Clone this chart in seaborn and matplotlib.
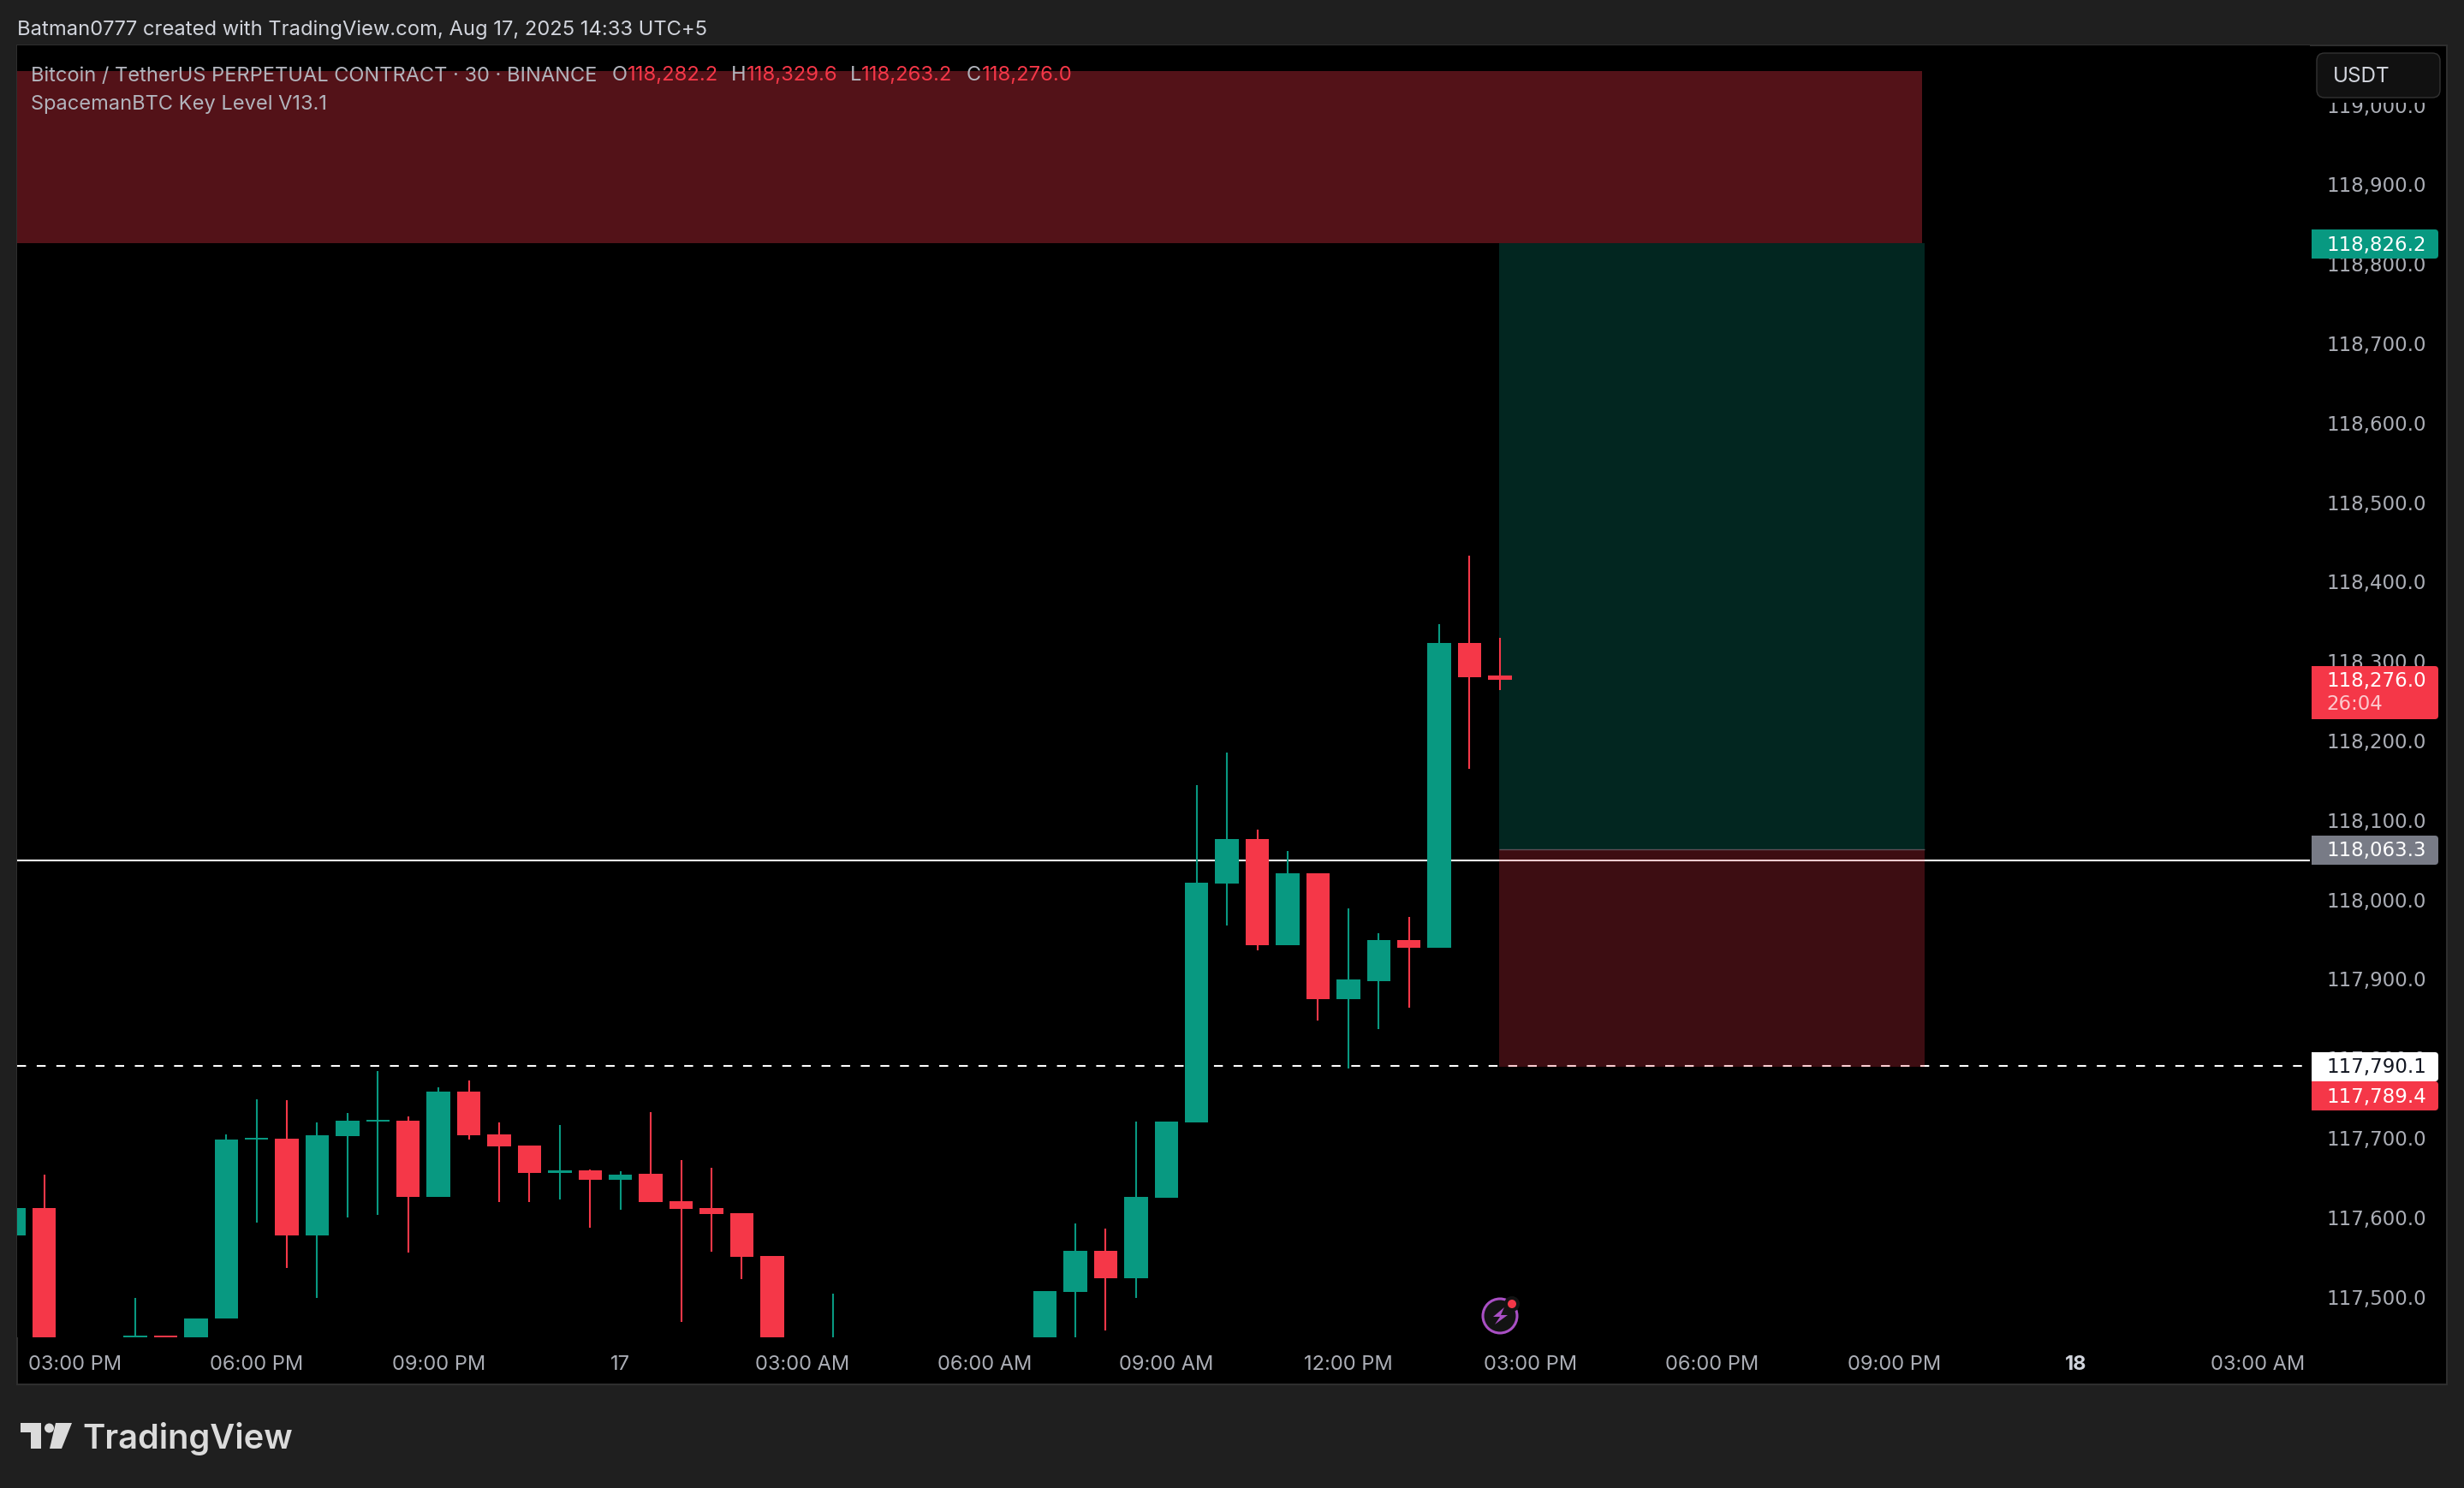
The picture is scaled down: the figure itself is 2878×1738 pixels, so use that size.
import pandas as pd
import seaborn as sns
from matplotlib import pyplot as plt
from matplotlib.patches import Rectangle, Circle, Polygon, FancyBboxPatch
from matplotlib.transforms import Affine2D

# candles, body below the pane bottom is only estimated
idx = [0, 1, 4, 5, 6, 7, 8, 9, 10, 11, 12, 13, 14, 15, 16, 17, 18, 19, 20, 21, 22, 23, 24, 25, 27,
       34, 35, 36, 37, 38, 39, 40, 41, 42, 43, 44, 45, 46, 47, 48, 49]
opens = [117576.8, 117612.0, 117420.0, 117450.6, 117420.0, 117472.3, 117698.2, 117699.3, 117576.8, 117702.5,
         117720.9, 117721.9, 117625.3, 117758.6, 117704.7, 117690.7, 117656.2, 117659.4, 117647.6, 117655.1,
         117620.6, 117612.0, 117605.6, 117551.7, 117400.0,
         117420.0, 117506.5, 117558.2, 117523.7, 117625.0, 117719.9, 118020.4, 118076.5, 117942.8, 118032.5,
         117874.1, 117897.5, 117948.4, 117939.6, 118322.3, 118282.2]
highs = [117612.0, 117654.0, 117498.9, 117450.6, 117473.0, 117704.7, 117748.9, 117747.8, 117719.8, 117731.6,
         117784.4, 117727.3, 117764.0, 117772.6, 117719.8, 117690.7, 117716.6, 117660.5, 117658.4, 117732.7,
         117672.4, 117662.7, 117605.6, 117551.7, 117504.3,
         117507.6, 117592.7, 117586.2, 117720.9, 117720.9, 118144.2, 118185.4, 118088.2, 118061.5, 118032.5,
         117989.1, 117957.8, 117978.4, 118346.1, 118433.0, 118329.6]
lows = [117576.8, 117400.0, 117420.0, 117420.0, 117420.0, 117472.3, 117593.0, 117536.6, 117498.9, 117599.4,
        117602.7, 117556.0, 117625.3, 117698.2, 117619.6, 117619.6, 117622.8, 117587.2, 117609.9, 117619.6,
        117468.7, 117557.1, 117522.6, 117420.0, 117400.0,
        117420.0, 117430.0, 117458.0, 117499.0, 117625.0, 117719.9, 117966.7, 117936.3, 117942.8, 117848.0,
        117787.7, 117837.2, 117863.4, 117939.6, 118163.9, 118263.2]
closes = [117612.0, 117400.0, 117450.6, 117420.0, 117473.0, 117698.2, 117700.4, 117576.8, 117703.6, 117721.9,
          117723.0, 117625.3, 117758.6, 117703.6, 117689.6, 117656.2, 117659.4, 117647.6, 117654.0, 117619.6,
          117611.0, 117604.5, 117550.6, 117420.0, 117440.0,
          117507.6, 117558.2, 117523.7, 117626.1, 117720.9, 118021.3, 118076.5, 117942.8, 118032.5, 117874.1,
          117898.9, 117948.4, 117939.6, 118322.3, 118279.3, 118276.0]

price_ticks = [117500, 117600, 117700, 117800, 117900, 118000, 118100, 118200, 118300, 118400, 118500,
               118600, 118700, 118800, 118900, 119000]
time_ticks = [2, 8, 14, 20, 26, 32, 38, 44, 50, 56, 62, 68, 74]
time_labels = ['03:00 PM', '06:00 PM', '09:00 PM', '17', '03:00 AM', '06:00 AM', '09:00 AM', '12:00 PM',
               '03:00 PM', '06:00 PM', '09:00 PM', '18', '03:00 AM']

# price levels and boxes
key_low, key_high = 118826.2, 119043.0
entry, stop, target = 118063.3, 117789.4, 118826.2
white_level, dash_level = 118049.0, 117790.1
key_end, box_start, box_end = 62.92, 48.97, 63.0

# pixel sizes from the reference
W, H = 2878, 1738
LEFT, TOP, RIGHT, BOTTOM = 20, 53, 2698, 1562
X0, X1 = 0.105, 75.71
Y0, Y1 = 117448.9, 119075.0

GREEN = '#089981'
RED = '#f53748'
BG = '#1f1f1f'
GREY = '#abaeb6'
LEGEND = '#b2b4bc'
PRICE_FONT = 'DejaVu Sans'
PRICE_SIZE = 16.5

sns.set_theme(style='dark')
plt.rcParams['font.family'] = ['Inter', 'DejaVu Sans']

fig = plt.figure(figsize=(W / 100, H / 100), dpi=100, facecolor=BG)
top_left = Affine2D().scale(1, -1).translate(0, H)

# black pane with thin border, also behind the axis labels
fig.add_artist(Rectangle((20, 53), 2838, 1564, transform=top_left, facecolor='black',
                         edgecolor='#2e2e2e', linewidth=1.5, zorder=-1))

ax = fig.add_axes([LEFT / W, 1 - BOTTOM / H, (RIGHT - LEFT) / W, (BOTTOM - TOP) / H])
ax.set_facecolor('black')

df = pd.DataFrame({'i': idx, 'o': opens, 'h': highs, 'l': lows, 'c': closes})
df['bottom'] = df[['o', 'c']].min(axis=1)
df['body'] = (df['c'] - df['o']).abs()
up = df[df['c'] >= df['o']]
down = df[df['c'] < df['o']]

# levels sit under the translucent boxes
ax.hlines(white_level, X0, X1, color='white', linewidth=1.5, zorder=1)
ax.hlines(dash_level, X0, X1 - 0.17, color='white', linewidth=1.5, linestyle=(0, (5, 6)), zorder=1)

ax.axhspan(key_low, key_high, xmin=0, xmax=(key_end - X0) / (X1 - X0), color=RED, alpha=0.34, lw=0, zorder=1.2)
ax.fill_between([box_start, box_end], entry, target, color=GREEN, alpha=0.25, lw=0, zorder=1.2)
ax.fill_between([box_start, box_end], stop, entry, color=RED, alpha=0.25, lw=0, zorder=1.2)
ax.hlines(entry, box_start, box_end, color='#787b86', linewidth=1, alpha=0.6, zorder=1.3)

for part, col in [(up, GREEN), (down, RED)]:
    ax.vlines(part['i'], part['l'], part['h'], color=col, linewidth=1.5, zorder=2)
    sns.barplot(data=part, x='i', y='body', bottom=part['bottom'].values, native_scale=True, width=0.774,
                color=col, saturation=1, errorbar=None, linewidth=0, zorder=3, ax=ax)

ax.set_xlim(X0, X1)
ax.set_ylim(Y0, Y1)
ax.set_xlabel('')
ax.set_ylabel('')
ax.grid(False)
for s in ax.spines.values():
    s.set_visible(False)

ax.yaxis.tick_right()
ax.set_yticks(price_ticks)
ax.set_yticklabels([f'{p:,.1f}' for p in price_ticks], ha='left')
ax.set_xticks(time_ticks)
ax.set_xticklabels(time_labels)
ax.tick_params(axis='y', length=0, pad=14, labelsize=PRICE_SIZE, labelcolor=GREY, right=False,
               labelfontfamily=PRICE_FONT)
ax.tick_params(axis='x', length=0, pad=15.4, labelsize=17, labelcolor=GREY, bottom=False)
for t in ax.get_xticklabels():
    if t.get_text() == '18':
        t.set_fontweight('bold')
        t.set_color('#d1d4dc')


def label(x, y, s, color, size=17, weight='normal', family=None):
    fig.text(x, y, s, transform=top_left, color=color, fontsize=size, fontweight=weight,
             family=family, ha='left', va='center_baseline', zorder=12)


def price_label(y, s, color):
    label(2717, y, s, color, size=PRICE_SIZE, family=PRICE_FONT)


def badge(y0, y1, col):
    fig.add_artist(FancyBboxPatch((2700, y0), 148, y1 - y0, boxstyle='round,pad=0,rounding_size=4',
                                  transform=top_left, facecolor=col, edgecolor='none', zorder=10))
    fig.add_artist(Rectangle((2700, y0), 20, y1 - y0, transform=top_left, facecolor=col,
                             edgecolor='none', zorder=10))


# price badges
badge(268, 302, GREEN)
price_label(284, '118,826.2', 'white')
badge(778, 840, RED)
price_label(793, '118,276.0', 'white')
price_label(820, '26:04', '#fcc8cd')
badge(976, 1010, '#787b86')
price_label(991, '118,063.3', 'white')
badge(1229, 1263, 'white')
price_label(1244, '117,790.1', '#131722')
badge(1263, 1297, RED)
price_label(1279, '117,789.4', 'white')

# currency box, its dark margin cuts the top tick label
fig.add_artist(Rectangle((2700, 56), 156, 64, transform=top_left, facecolor='black', edgecolor='none', zorder=9))
fig.add_artist(FancyBboxPatch((2706, 62), 144, 52, boxstyle='round,pad=0,rounding_size=9',
                              transform=top_left, facecolor='#111111', edgecolor='#333333',
                              linewidth=1, zorder=10))
label(2725, 87, 'USDT', '#d1d4dc', size=17.5)

# header and legend
label(20, 32, 'Batman0777 created with TradingView.com, Aug 17, 2025 14:33 UTC+5', '#d1d4dc', size=17.1)
label(36, 86, 'Bitcoin / TetherUS PERPETUAL CONTRACT · 30 · BINANCE', LEGEND, size=17)
for x, s in [(715, 'O'), (854, 'H'), (993, 'L'), (1129, 'C')]:
    label(x, 86, s, LEGEND, size=17)
for x, s in [(733, '118,282.2'), (872, '118,329.6'), (1006, '118,263.2'), (1147, '118,276.0')]:
    label(x, 86, s, RED, size=17.2)
label(36, 119.5, 'SpacemanBTC Key Level V13.1', LEGEND, size=17)

# lightning marker
fig.add_artist(Circle((1752, 1537), 20, transform=top_left, facecolor='#131313', edgecolor='#a94fc4',
                      linewidth=2.2, zorder=10))
fig.add_artist(Polygon([(1757, 1527), (1744, 1538), (1752, 1538), (1746, 1547), (1761, 1536), (1753, 1536)],
                       transform=top_left, facecolor='#a94fc4', edgecolor='none', zorder=11))
fig.add_artist(Circle((1766, 1523), 9, transform=top_left, facecolor='#131313', edgecolor='none', zorder=11))
fig.add_artist(Circle((1766, 1523), 5, transform=top_left, facecolor=RED, edgecolor='none', zorder=12))

# logo
LOGO = '#dbdbdb'
fig.add_artist(Polygon([(24, 1662), (48, 1662), (48, 1692), (36, 1692), (36, 1673), (24, 1673)],
                       transform=top_left, facecolor=LOGO, edgecolor='none'))
fig.add_artist(Circle((57.5, 1668), 5.5, transform=top_left, facecolor=LOGO, edgecolor='none'))
fig.add_artist(Polygon([(65, 1662), (84, 1662), (72, 1692), (58, 1692)],
                       transform=top_left, facecolor=LOGO, edgecolor='none'))
label(96, 1677, 'TradingView', LOGO, size=28.7, weight='semibold')

fig.savefig('out.png', dpi=100, facecolor=BG)
